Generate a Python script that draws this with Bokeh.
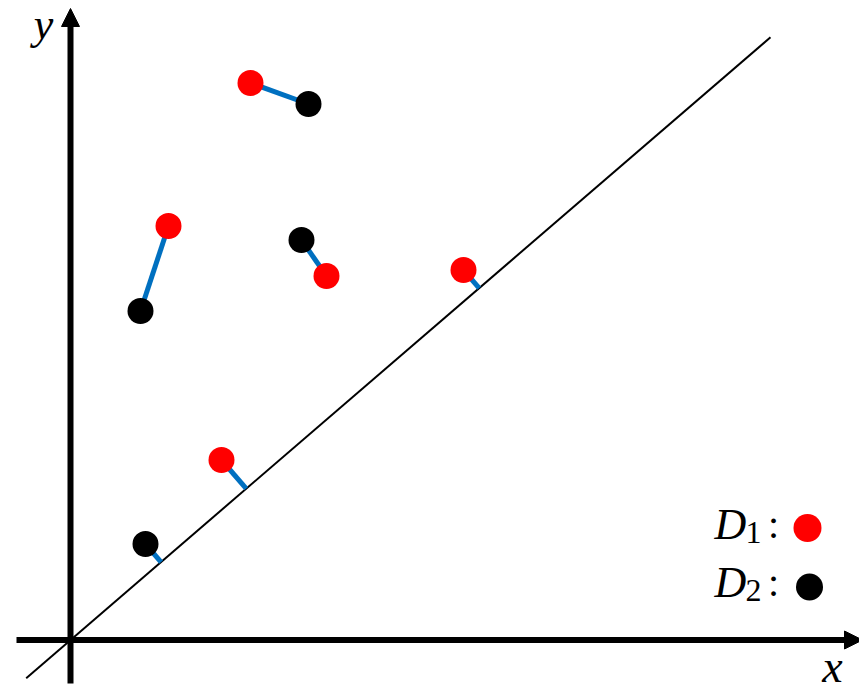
from bokeh.plotting import figure
from bokeh.models import Range1d, Arrow, NormalHead
from bokeh.core.properties import value
from bokeh.embed import file_html
from bokeh.resources import INLINE

# Sample points of the two sets
d1_x = [1.80, 0.98, 2.56, 3.93, 1.51]
d1_y = [5.57, 4.14, 3.64, 3.70, 1.80]
d2_x = [2.38, 0.70, 2.31, 0.75]
d2_y = [5.36, 3.29, 4.00, 0.96]

# Matched pairs (index into d1, index into d2)
pairs = [(0, 0), (1, 1), (2, 2)]
# Unmatched points, linked to the diagonal line instead
d1_to_line = [3, 4]
d2_to_line = [3]

# Diagonal line y = slope * x
slope = 0.861
line_x = [-0.443, 7.00]

# Axis extents
x_axis = (-0.54, 7.92)
y_axis = (-0.435, 6.315)

RED = "#FF0000"
BLUE = "#0070C0"


def foot(px, py):
    # orthogonal projection onto y = slope * x
    t = (px + slope * py) / (1 + slope * slope)
    return t, slope * t


p = figure(width=859, height=690, output_backend="svg", toolbar_location=None,
           x_range=Range1d(-0.70, 7.89), y_range=Range1d(-0.505, 6.395),
           min_border=0)
p.axis.visible = False
p.grid.visible = False
p.outline_line_color = None
p.background_fill_color = "white"
p.border_fill_color = "white"

# coordinate axes with arrow heads
p.add_layout(Arrow(x_start=0, y_start=y_axis[0], x_end=0, y_end=y_axis[1],
                   line_width=6, line_color="black",
                   end=NormalHead(size=18, fill_color="black", line_color="black", line_width=1)))
p.add_layout(Arrow(x_start=x_axis[0], y_start=0, x_end=x_axis[1], y_end=0,
                   line_width=6, line_color="black",
                   end=NormalHead(size=18, fill_color="black", line_color="black", line_width=1)))

# diagonal
p.line(line_x, [slope * v for v in line_x], line_color="black", line_width=2)

# connecting segments
sx0, sy0, sx1, sy1 = [], [], [], []
for i, j in pairs:
    sx0.append(d1_x[i]); sy0.append(d1_y[i])
    sx1.append(d2_x[j]); sy1.append(d2_y[j])
for i in d1_to_line:
    fx, fy = foot(d1_x[i], d1_y[i])
    sx0.append(d1_x[i]); sy0.append(d1_y[i]); sx1.append(fx); sy1.append(fy)
for j in d2_to_line:
    fx, fy = foot(d2_x[j], d2_y[j])
    sx0.append(d2_x[j]); sy0.append(d2_y[j]); sx1.append(fx); sy1.append(fy)
p.segment(sx0, sy0, sx1, sy1, line_color=BLUE, line_width=5)

# points
p.scatter(d1_x, d1_y, size=26, fill_color=RED, line_color=None)
p.scatter(d2_x, d2_y, size=26, fill_color="black", line_color=None)

# axis labels
serif = value("Liberation Serif")
p.text(x=[-0.27], y=[6.16], text=["y"], text_font=serif, text_font_style="italic",
       text_font_size="44px", text_align="center", text_baseline="alphabetic")
p.text(x=[7.62], y=[-0.26], text=["x"], text_font=serif, text_font_style="italic",
       text_font_size="46px", text_align="center", text_baseline="alphabetic")

# legend
leg_y = [1.16, 0.58]
p.text(x=[6.44, 6.44], y=leg_y, text=["D", "D"], text_font=serif, text_font_style="italic",
       text_font_size="44px", text_align="left", text_baseline="alphabetic")
p.text(x=[6.75, 6.75], y=[v - 0.08 for v in leg_y], text=["1", "2"], text_font=serif,
       text_font_size="32px", text_align="left", text_baseline="alphabetic")
p.text(x=[7.03, 7.03], y=leg_y, text=[":", ":"], text_font=serif,
       text_font_size="40px", text_align="center", text_baseline="alphabetic")
p.scatter([7.37], [1.12], size=28, fill_color=RED, line_color=None)
p.scatter([7.39], [0.53], size=27, fill_color="black", line_color=None)

open("out.html", "w").write(file_html(p, INLINE))
